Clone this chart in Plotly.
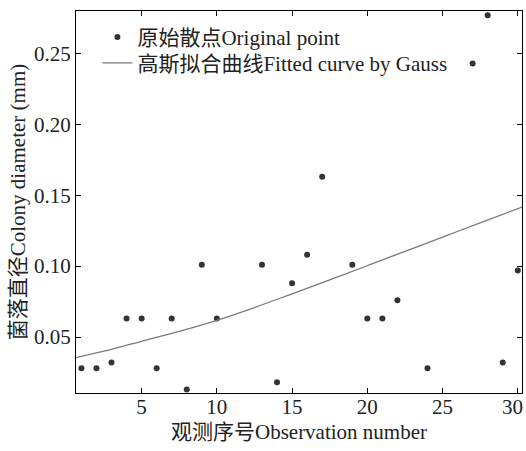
import plotly.graph_objects as go

# Observed scatter points
obs_x = [1, 2, 3, 4, 5, 6, 7, 8, 9, 10, 13, 14, 15, 16, 17, 19, 20, 21, 22, 24, 27, 28, 29, 30]
obs_y = [0.028, 0.028, 0.032, 0.063, 0.063, 0.028, 0.063, 0.013, 0.101, 0.063,
         0.101, 0.018, 0.088, 0.108, 0.163, 0.101, 0.063, 0.063, 0.076, 0.028,
         0.243, 0.277, 0.032, 0.097]

# Fitted Gaussian curve
fit_x = [0.64, 2.5, 5, 7.5, 10, 12.5, 15, 17.5, 20, 22.5, 25, 27.5, 30.28]
fit_y = [0.0355, 0.0400, 0.0470, 0.0540, 0.0618, 0.0708, 0.0805, 0.0903, 0.1003,
         0.1104, 0.1205, 0.1305, 0.1417]

x_ticks = [5, 10, 15, 20, 25, 30]
x_tick_text = ["5", "10", "15", "20", "25", "30\u2002"]
y_ticks = [0.05, 0.10, 0.15, 0.20, 0.25]
y_tick_text = ["0.05", "0.10", "0.15", "0.20", "0.25"]

FONT = "Liberation Serif, Noto Sans CJK SC, serif"
TXT = "#222222"

fig = go.Figure()
fig.add_trace(go.Scatter(
    x=obs_x, y=obs_y, mode="markers",
    marker=dict(size=6, color="#333333"),
    name="原始散点Original point", legend="legend",
))
fig.add_trace(go.Scatter(
    x=fit_x, y=fit_y, mode="lines",
    line=dict(color="#7a7a7a", width=1.3, shape="spline", smoothing=1.0),
    name="高斯拟合曲线Fitted curve by Gauss", legend="legend2",
))

axis_common = dict(
    showline=True, linecolor="black", linewidth=1, mirror="ticks",
    ticks="inside", ticklen=5, tickwidth=1, tickcolor="black",
    showgrid=False, zeroline=False, automargin=False,
    tickfont=dict(family=FONT, size=21, color=TXT),
)

legend_common = dict(xanchor="left", yanchor="top", bgcolor="rgba(0,0,0,0)",
                     font=dict(family=FONT, size=21, color=TXT))

fig.update_layout(
    width=526, height=451,
    margin=dict(l=76, r=4, t=11, b=58),
    paper_bgcolor="white", plot_bgcolor="white",
    font=dict(family=FONT, size=21, color=TXT),
    showlegend=True,
    legend=dict(x=0.048, y=0.985, **legend_common),
    legend2=dict(x=0.048, y=0.917, **legend_common),
    xaxis=dict(range=[0.64, 30.28], tickvals=x_ticks, ticktext=x_tick_text,
               ticklabeloverflow="allow", ticklabelstandoff=-5,
               title=dict(text="观测序号Observation number", standoff=6,
                          font=dict(family=FONT, size=21, color=TXT)),
               **axis_common),
    yaxis=dict(range=[0.0105, 0.280], tickvals=y_ticks, ticktext=y_tick_text,
               title=dict(text="菌落直径Colony diameter (mm)", standoff=2,
                          font=dict(family=FONT, size=21, color=TXT)),
               **axis_common),
)

fig.write_html(
    "out.html",
    config={"displayModeBar": False},
    post_script="document.body.style.margin='0';document.body.style.overflow='hidden';",
)
